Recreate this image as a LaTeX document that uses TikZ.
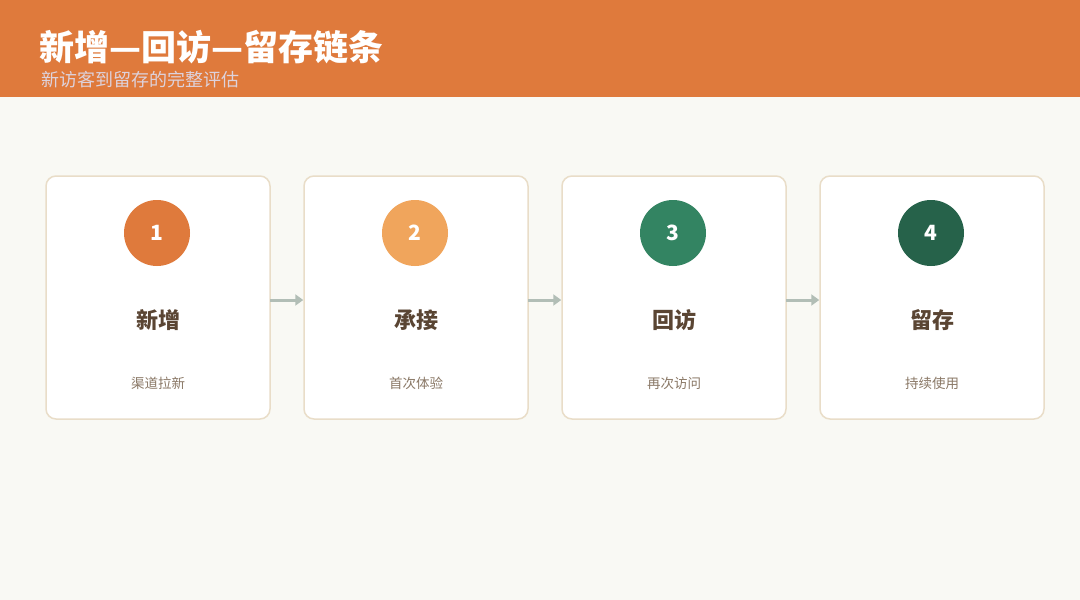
\documentclass[tikz,border=0pt]{standalone}
\usepackage{fontspec}
\usetikzlibrary{arrows.meta, positioning, shapes}
\usepackage{xcolor}
\newfontfamily\cjk{Noto Sans CJK SC}

\definecolor{headbg}{HTML}{DF7A3C}
\definecolor{pagebg}{HTML}{F9F9F4}
\definecolor{cardline}{HTML}{E9DDC8}
\definecolor{stepA}{HTML}{DF7A3C}
\definecolor{stepB}{HTML}{F0A55C}
\definecolor{stepC}{HTML}{338462}
\definecolor{stepD}{HTML}{26624A}
\definecolor{titletext}{HTML}{5A4533}
\definecolor{subtext}{HTML}{8A7866}
\definecolor{arrowgray}{HTML}{B2BEB6}
\definecolor{headsub}{HTML}{DDD2DC}

\tikzset{
	card/.style={draw=cardline, line width=1.5pt, fill=white, rounded corners=10pt,
		minimum width=224pt, minimum height=243pt, inner sep=0pt},
	badge/.style={circle, minimum size=66pt, inner sep=0pt, text=white,
		font=\cjk\bfseries\fontsize{21}{21}\selectfont},
	cardtitle/.style={text=titletext, font=\cjk\bfseries\fontsize{22}{22}\selectfont},
	cardsub/.style={text=subtext, font=\cjk\fontsize{13.5}{14}\selectfont},
	flow/.style={draw=arrowgray, line width=3pt, -{Triangle[length=8pt, width=11pt]}, shorten <=-0.75pt}
}

\begin{document}
\begin{tikzpicture}[x=1pt, y=-1pt]
	
	% 背景与标题栏
	\fill[pagebg] (0, 0) rectangle (1080, 600);
	\useasboundingbox (0, 0) rectangle (1080, 600);
	\fill[headbg] (0, 0) rectangle (1080, 97);
	\node[anchor=west, text=white, font=\cjk\bfseries\fontsize{35}{35}\selectfont, inner sep=0pt] (title) at (39, 47) {新增—回访—留存链条};
	\node[anchor=west, text=headsub, font=\cjk\fontsize{18}{18}\selectfont, inner sep=0pt] (subtitle) at (41, 80) {新访客到留存的完整评估};
	
	% 第一步 新增
	\node[card] (card1) at (158, 297.5) {};
	\node[badge, fill=stepA] (num1) at (157, 233) {1};
	\node[cardtitle] (name1) at (158, 320) {新增};
	\node[cardsub] (desc1) at (158, 383) {渠道拉新};
	
	% 第二步 承接
	\node[card] (card2) at (416, 297.5) {};
	\node[badge, fill=stepB] (num2) at (415, 233) {2};
	\node[cardtitle] (name2) at (416, 320) {承接};
	\node[cardsub] (desc2) at (416, 383) {首次体验};
	
	% 第三步 回访
	\node[card] (card3) at (674, 297.5) {};
	\node[badge, fill=stepC] (num3) at (673, 233) {3};
	\node[cardtitle] (name3) at (674, 320) {回访};
	\node[cardsub] (desc3) at (674, 383) {再次访问};
	
	% 第四步 留存
	\node[card] (card4) at (932, 297.5) {};
	\node[badge, fill=stepD] (num4) at (931, 233) {4};
	\node[cardtitle] (name4) at (932, 320) {留存};
	\node[cardsub] (desc4) at (932, 383) {持续使用};
	
	% 步骤之间的箭头
	\draw[flow] ([yshift=-2.5pt]card1.east) -- ([yshift=-2.5pt]card2.west);
	\draw[flow] ([yshift=-2.5pt]card2.east) -- ([yshift=-2.5pt]card3.west);
	\draw[flow] ([yshift=-2.5pt]card3.east) -- ([yshift=-2.5pt]card4.west);
	
\end{tikzpicture}
\end{document}
